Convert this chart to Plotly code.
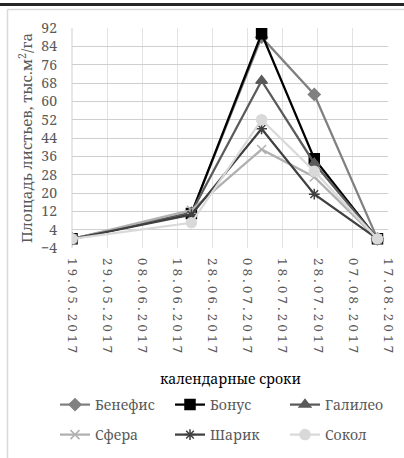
import plotly.graph_objects as go

# ---- data ----
dates = ["2017-05-19", "2017-06-22", "2017-07-12", "2017-07-27", "2017-08-14"]
benefis = [0, 11, 88, 63, 0]
bonus = [0, 11, 89.5, 35, 0]
galileo = [0, 11.5, 69, 33, 0]
sfera = [0, 12.5, 39, 27, 0]
sharik = [0, 10.5, 48, 19.5, 0]
sokol = [0, 7, 52, 29.5, 0]

series_names = ["Бенефис", "Бонус", "Галилео", "Сфера", "Шарик", "Сокол"]
tick_dates = ["2017-05-19", "2017-05-29", "2017-06-08", "2017-06-18", "2017-06-28",
              "2017-07-08", "2017-07-18", "2017-07-28", "2017-08-07", "2017-08-17"]
tick_labels = ["19.05.2017", "29.05.2017", "08.06.2017", "18.06.2017", "28.06.2017",
               "08.07.2017", "18.07.2017", "28.07.2017", "07.08.2017", "17.08.2017"]

W, H = 404, 458
ML, MR, MT, MB = 72, 16, 28, 210
PW, PH = W - ML - MR, H - MT - MB

FONT = "Noto Serif"
GRAY = "#595959"

styles = [
    dict(color="#808080", symbol="diamond", size=9),
    dict(color="#000000", symbol="square", size=10),
    dict(color="#5a5a5a", symbol="triangle-up", size=10),
    dict(color="#b0b0b0", symbol="x-thin-open", size=9),
    dict(color="#404040", symbol="asterisk-open", size=9),
    dict(color="#d9d9d9", symbol="circle", size=10),
]
values = [benefis, bonus, galileo, sfera, sharik, sokol]

fig = go.Figure()
for i, (name, vals, st) in enumerate(zip(series_names, values, styles)):
    fig.add_trace(go.Scatter(
        x=dates, y=vals, name=name, mode="lines+markers",
        line=dict(color=st["color"], width=2.25),
        marker=dict(symbol=st["symbol"], size=st["size"], color=st["color"],
                    line=dict(color=st["color"], width=1.5)),
        legend="legend" if i < 3 else "legend2",
    ))

def spaced(s):
    return " ".join(s)

def px2py(py):
    return (H - MB - py) / PH

def px2px(px):
    return (px - ML) / PW

leg_common = dict(
    orientation="h", xref="paper", yref="paper",
    xanchor="left", yanchor="middle",
    font=dict(family=FONT, size=14, color=GRAY),
    entrywidth=70, entrywidthmode="pixels",
    bgcolor="rgba(0,0,0,0)", itemclick=False,
)

fig.update_layout(
    width=W, height=H,
    margin=dict(l=ML, r=MR, t=MT, b=MB, autoexpand=False),
    paper_bgcolor="white", plot_bgcolor="white",
    font=dict(family=FONT, color=GRAY),
    xaxis=dict(
        type="date", range=["2017-05-19", "2017-08-17"],
        tickvals=tick_dates, ticktext=[spaced(t) for t in tick_labels],
        tickangle=90, tickfont=dict(family=FONT, size=13, color=GRAY),
        ticklabelstandoff=9, automargin=False,
        showgrid=True, gridcolor="#e3e3e3", gridwidth=1,
        showline=False, zeroline=False, ticks="",
    ),
    yaxis=dict(
        range=[-4, 92], tick0=-4, dtick=8, automargin=False,
        tickfont=dict(family=FONT, size=14, color=GRAY),
        showgrid=True, gridcolor="#cfcfcf", gridwidth=1,
        zeroline=False, showline=False, ticks="",
        ticklabelstandoff=14,
        title=dict(text="Площадь листьев, тыс.м<sup>2</sup>/га",
                   font=dict(family=FONT, size=15, color=GRAY), standoff=4),
    ),
    legend=dict(leg_common, x=px2px(55), y=px2py(405)),
    legend2=dict(leg_common, x=px2px(55), y=px2py(435)),
    annotations=[dict(
        text="календарные сроки", xref="paper", yref="paper",
        x=0.5, y=px2py(378), xanchor="center", yanchor="middle", showarrow=False,
        font=dict(family=FONT, size=14, color="#000000"),
    )],
    shapes=[
        dict(type="line", xref="paper", yref="paper", x0=px2px(0), x1=px2px(W),
             y0=px2py(4.5), y1=px2py(4.5), line=dict(color="#262626", width=3)),
        dict(type="line", xref="paper", yref="paper", x0=px2px(7.5), x1=px2px(W),
             y0=px2py(9.5), y1=px2py(9.5), line=dict(color="#d9d9d9", width=1.5)),
        dict(type="line", xref="paper", yref="paper", x0=px2px(7.5), x1=px2px(7.5),
             y0=px2py(9.5), y1=px2py(H), line=dict(color="#d9d9d9", width=1.5)),
        dict(type="line", xref="paper", yref="paper", x0=0, x1=0, y0=0, y1=1,
             line=dict(color="#d0d0d0", width=1), layer="below"),
    ],
)

fig.write_html("out.html")
